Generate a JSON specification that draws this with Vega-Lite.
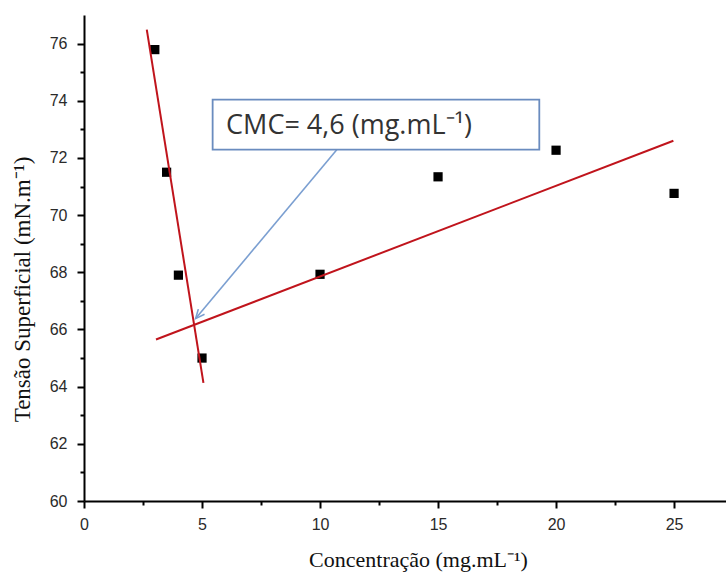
{
  "$schema": "https://vega.github.io/schema/vega-lite/v6.json",
  "width": 642,
  "height": 486,
  "autosize": {"type": "none"},
  "padding": {"left": 84, "top": 15, "right": 0, "bottom": 77},
  "background": "white",
  "config": {"view": {"stroke": null}},
  "datasets": {
    "pts": [
      {"x": 3, "y": 75.79},
      {"x": 3.5, "y": 71.5},
      {"x": 4, "y": 67.9},
      {"x": 5, "y": 65.0},
      {"x": 10, "y": 67.93},
      {"x": 15, "y": 71.34},
      {"x": 20, "y": 72.27},
      {"x": 25, "y": 70.76}
    ],
    "fits": [
      {"line": "a", "x": 2.66, "y": 76.49},
      {"line": "a", "x": 5.06, "y": 64.13},
      {"line": "b", "x": 3.05, "y": 65.65},
      {"line": "b", "x": 24.97, "y": 72.6}
    ],
    "box": [{"x": 5.45, "x2": 19.29, "y": 74.04, "y2": 72.29}],
    "label": [{"x": 6.02, "y": 72.83, "text": "CMC= 4,6 (mg.mL⁻¹)"}],
    "arrow": [{"x": 10.71, "y": 72.29, "x2": 4.73, "y2": 66.38}],
    "head": [{"x": 4.73, "y": 66.38}]
  },
  "encoding": {
    "x": {
      "field": "x",
      "type": "quantitative",
      "scale": {"domain": [0, 27.2], "nice": false, "zero": false},
      "axis": {
        "values": [0, 2.5, 5, 7.5, 10, 12.5, 15, 17.5, 20, 22.5, 25],
        "labelExpr": "datum.value % 5 === 0 ? datum.label : ''",
        "tickSize": {"condition": {"test": "datum.value % 5 !== 0", "value": 4}, "value": 7},
        "tickWidth": 2,
        "tickColor": "#000",
        "domainColor": "#000",
        "domainWidth": 2,
        "grid": false,
        "labelFont": "Liberation Sans",
        "labelFontSize": 16,
        "labelColor": "#2a2a2a",
        "labelPadding": 8,
        "labelFlush": false,
        "labelOverlap": false,
        "title": "Concentração (mg.mL⁻¹)",
        "titleFont": "Liberation Serif",
        "titleFontSize": 22,
        "titleFontWeight": "normal",
        "titleColor": "#111",
        "titleX": 334,
        "titleY": 65,
        "titleAlign": "center",
        "titleBaseline": "alphabetic"
      }
    },
    "y": {
      "field": "y",
      "type": "quantitative",
      "scale": {"domain": [60, 77], "nice": false, "zero": false},
      "axis": {
        "values": [60, 61, 62, 63, 64, 65, 66, 67, 68, 69, 70, 71, 72, 73, 74, 75, 76],
        "labelExpr": "datum.value % 2 === 0 ? datum.label : ''",
        "tickSize": {"condition": {"test": "datum.value % 2 !== 0", "value": 4}, "value": 7},
        "tickWidth": 2,
        "tickColor": "#000",
        "domainColor": "#000",
        "domainWidth": 2,
        "grid": false,
        "labelFont": "Liberation Sans",
        "labelFontSize": 16,
        "labelColor": "#2a2a2a",
        "labelPadding": 10,
        "labelFlush": false,
        "labelOverlap": false,
        "title": "Tensão Superficial (mN.m⁻¹)",
        "titleFont": "Liberation Serif",
        "titleFontSize": 23,
        "titleFontWeight": "normal",
        "titleColor": "#111",
        "titleAngle": -90,
        "titleX": -55,
        "titleY": 274,
        "titleAlign": "center",
        "titleBaseline": "alphabetic"
      }
    }
  },
  "layer": [
    {
      "data": {"name": "pts"},
      "mark": {"type": "point", "shape": "square", "filled": true, "size": 85, "color": "#000", "opacity": 1}
    },
    {
      "data": {"name": "fits"},
      "mark": {"type": "line", "color": "#c0141c", "strokeWidth": 2},
      "encoding": {"detail": {"field": "line"}}
    },
    {
      "data": {"name": "arrow"},
      "mark": {"type": "rule", "color": "#7b9fd1", "strokeWidth": 1.6},
      "encoding": {"x2": {"field": "x2"}, "y2": {"field": "y2"}}
    },
    {
      "data": {"name": "head"},
      "mark": {"type": "point", "shape": "M -0.45 1 L 0 0 L 0.45 1", "filled": false, "size": 324, "angle": 220, "color": "#7b9fd1", "strokeWidth": 1.6, "opacity": 1}
    },
    {
      "data": {"name": "box"},
      "mark": {"type": "rect", "fill": "white", "stroke": "#6a8cbf", "strokeWidth": 1.8},
      "encoding": {"x2": {"field": "x2"}, "y2": {"field": "y2"}}
    },
    {
      "data": {"name": "label"},
      "mark": {"type": "text", "align": "left", "baseline": "alphabetic", "font": "Open Sans", "fontSize": 27, "color": "#333"},
      "encoding": {"text": {"field": "text"}}
    }
  ]
}
